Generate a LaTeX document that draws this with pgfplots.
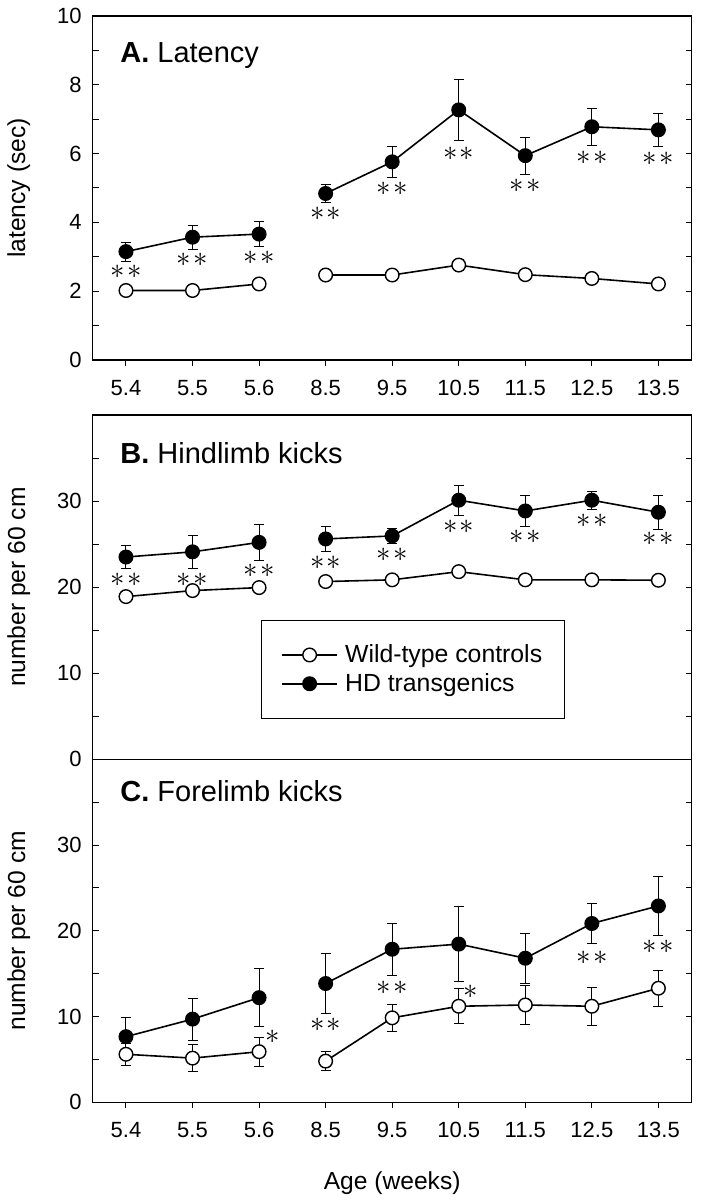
\documentclass[border=0pt]{standalone}
\usepackage{fontspec}
\setmainfont{Liberation Sans}
\usepackage{pgfplots}
\usepackage{pgfplotstable}
\pgfplotsset{compat=1.18}

\newcommand\ticksize{\fontsize{11}{13}\selectfont}
\newcommand\labsize{\fontsize{12.3}{14}\selectfont}
\newcommand\legsize{\fontsize{12.4}{14}\selectfont}
\newcommand\titsize{\fontsize{14.5}{17}\selectfont}
\newcommand\starsize{\fontsize{13.5}{15}\selectfont}
\newcommand\twostar{$\ast\mkern1.5mu\ast$}
\newcommand\onestar{$\ast$}
\newcommand\st[2]{\node[font=\starsize, inner sep=0pt] at (axis cs:#1,#2) {\twostar};}

\pgfplotstableread{
x hd hde wt wte
0 3.15 0.27 2.02 0.08
1 3.57 0.35 2.02 0.08
2 3.66 0.37 2.21 0.08
2.5 nan 0 nan 0
3 4.84 0.25 2.47 0.08
4 5.76 0.45 2.47 0.08
5 7.27 0.90 2.76 0.15
6 5.94 0.54 2.48 0.12
7 6.78 0.54 2.37 0.08
8 6.69 0.48 2.21 0.08
}\dataA

\pgfplotstableread{
x hd hde wt wte
0 23.5 1.3 18.9 0.4
1 24.1 1.9 19.6 0.4
2 25.2 2.1 19.95 0.4
2.5 nan 0 nan 0
3 25.6 1.5 20.65 0.4
4 25.95 0.85 20.85 0.4
5 30.1 1.75 21.8 0.5
6 28.85 1.8 20.85 0.4
7 30.1 1.05 20.85 0.4
8 28.7 1.95 20.8 0.4
}\dataB

\pgfplotstableread{
x hd hde wt wte
0 7.65 2.3 5.6 1.25
1 9.7 2.45 5.15 1.55
2 12.2 3.4 5.9 1.7
2.5 nan 0 nan 0
3 13.85 3.5 4.8 1.1
4 17.85 3.0 9.85 1.55
5 18.45 4.35 11.2 2.05
6 16.8 2.9 11.35 2.3
7 20.85 2.35 11.2 2.25
8 22.9 3.4 13.3 2.1
}\dataC

\pgfplotsset{
  panel/.style={
    scale only axis, width=299.5pt,
    xmin=-0.5, xmax=8.5,
    axis line style={line width=0.6pt, black},
    tick align=inside,
    major tick length=3pt, minor tick length=3pt,
    tick style={line width=0.5pt, black},
    xtick pos=bottom, ytick pos=both,
    xtick style={yshift=-3pt},
    tick label style={font=\ticksize},
    yticklabel style={xshift=-2pt},
    xticklabel style={yshift=-6.3pt, text height=7.9pt, text depth=0pt},
    /pgf/number format/assume math mode=true,
    unbounded coords=jump,
    clip=false,
    ylabel style={at={(axis description cs:-0.113,0.5)}, anchor=base, font=\labsize},
  },
  wt/.style={line width=0.8pt, black, mark=*, mark size=3.4pt,
    mark options={fill=white, draw=black, line width=0.7pt},
    error bars/.cd, y dir=both, y explicit,
    error bar style={line width=0.5pt, black, mark size=2.5pt}},
  hd/.style={line width=0.8pt, black, mark=*, mark size=3.4pt,
    mark options={fill=black, draw=black, line width=0.7pt},
    error bars/.cd, y dir=both, y explicit,
    error bar style={line width=0.5pt, black, mark size=2.5pt}},
  legend image code/.code={\draw[mark repeat=2,mark phase=2,#1] plot coordinates {(0pt,0pt)(13.65pt,0pt)(27.3pt,0pt)};},
}

\begin{document}
\begin{tikzpicture}[x=1pt,y=1pt]
\path[use as bounding box] (0,0) rectangle (351,600);

% Panel A
\begin{axis}[panel, at={(46.35pt,420pt)}, anchor=south west, height=172pt,
  ymin=0, ymax=10, ytick={0,2,...,10}, minor ytick={1,3,...,9},
  xtick={0,...,8}, xticklabels={5.4,5.5,5.6,8.5,9.5,10.5,11.5,12.5,13.5},
  ylabel={latency (sec)}]
\addplot[hd] table[x=x, y=hd, y error=hde] {\dataA};
\addplot[wt] table[x=x, y=wt, y error=wte] {\dataA};
\node[anchor=base west, font=\titsize] at (rel axis cs:0,1) [xshift=10.3pt, yshift=-23.2pt] {\textbf{A.} Latency};
\st{0}{2.57}\st{1}{2.9}\st{2}{2.96}\st{3}{4.24}\st{4}{4.97}\st{5}{6.0}\st{6}{5.06}\st{7}{5.88}\st{8}{5.85}
\end{axis}

% Panel B
\begin{axis}[panel, at={(46.35pt,220.35pt)}, anchor=south west, height=172.15pt,
  ymin=0, ymax=40, ytick={0,10,20,30}, minor ytick={5,15,25,35},
  xtick=\empty,
  ylabel={number per 60 cm},
  legend style={at={(rel axis cs:0.281,0.4046)}, anchor=north west,
    draw=black, line width=0.5pt, fill=white,
    inner xsep=10pt, inner ysep=11pt, row sep=1.9pt, column sep=2.7pt,
    font=\legsize, nodes={inner sep=1pt}},
  legend cell align=left]
\addplot[wt] table[x=x, y=wt, y error=wte] {\dataB};
\addlegendentry{Wild-type controls}
\addplot[hd] table[x=x, y=hd, y error=hde] {\dataB};
\addlegendentry{HD transgenics}
\node[anchor=base west, font=\titsize] at (rel axis cs:0,1) [xshift=10.3pt, yshift=-24.2pt] {\textbf{B.} Hindlimb kicks};
\st{0}{20.85}\st{1}{20.85}\st{2}{21.9}\st{3}{22.8}\st{4}{23.7}\st{5}{27.05}\st{6}{25.8}\st{7}{27.75}\st{8}{25.6}
\end{axis}

% Panel C
\begin{axis}[panel, at={(46.35pt,48.85pt)}, anchor=south west, height=171.5pt,
  ymin=0, ymax=40, ytick={0,10,20,30}, minor ytick={5,15,25,35},
  xtick={0,...,8}, xticklabels={5.4,5.5,5.6,8.5,9.5,10.5,11.5,12.5,13.5},
  ylabel={number per 60 cm},
  xlabel={Age (weeks)},
  xlabel style={at={(axis description cs:0.5,-0.2555)}, anchor=base, font=\labsize}]
\addplot[hd] table[x=x, y=hd, y error=hde] {\dataC};
\addplot[wt] table[x=x, y=wt, y error=wte] {\dataC};
\node[anchor=base west, font=\titsize] at (rel axis cs:0,1) [xshift=10.3pt, yshift=-21.3pt] {\textbf{C.} Forelimb kicks};
\st{3}{9.0}\st{4}{13.4}\st{7}{16.8}\st{8}{18.14}
\node[font=\starsize, inner sep=0pt] at (axis cs:2,7.65) [xshift=6.65pt] {\onestar};
\node[font=\starsize, inner sep=0pt] at (axis cs:5,12.9) [xshift=6.2pt] {\onestar};
\end{axis}
\end{tikzpicture}
\end{document}
